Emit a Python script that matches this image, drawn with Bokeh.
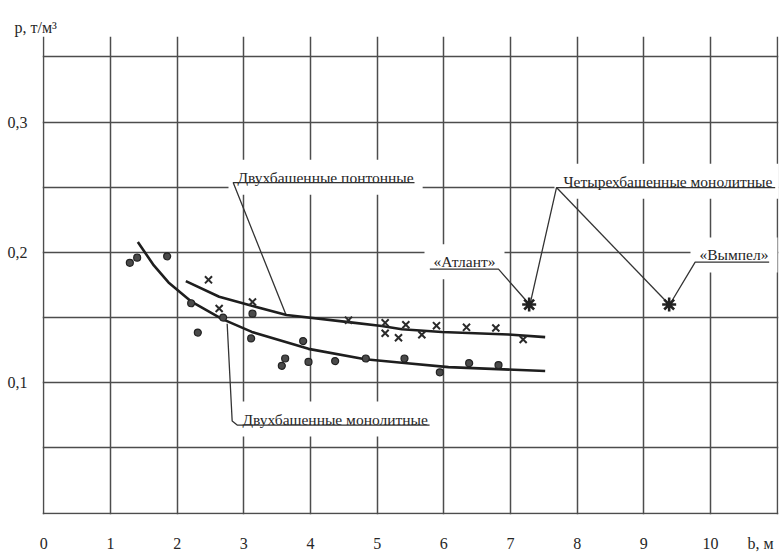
from bokeh.plotting import figure
from bokeh.models import FixedTicker, Label, Range1d
from bokeh.embed import file_html
from bokeh.resources import INLINE

# ---- data ----
# Двухбашенные монолитные (points)
mono_b = [1.29, 1.40, 1.85, 2.21, 2.31, 2.69, 3.11, 3.13, 3.57, 3.62, 3.89, 3.97, 4.37, 4.83, 5.41, 5.94, 6.38, 6.82]
mono_p = [0.192, 0.196, 0.197, 0.161, 0.1385, 0.150, 0.134, 0.153, 0.113, 0.1186, 0.132, 0.116, 0.1166, 0.1186, 0.1186, 0.108, 0.115, 0.1136]
# Двухбашенные понтонные (points)
pont_b = [2.47, 2.63, 3.13, 4.57, 5.12, 5.12, 5.32, 5.43, 5.67, 5.89, 6.34, 6.78, 7.19]
pont_p = [0.179, 0.157, 0.162, 0.148, 0.146, 0.138, 0.1345, 0.1445, 0.1368, 0.1438, 0.1425, 0.142, 0.1332]
# Четырехбашенные монолитные («Атлант», «Вымпел»)
four_b = [7.28, 9.38]
four_p = [0.160, 0.160]
# hand-drawn trend curves
mono_curve_b = [1.41, 1.65, 1.87, 2.22, 2.67, 3.12, 3.97, 4.82, 5.37, 6.07, 7.52]
mono_curve_p = [0.208, 0.190, 0.177, 0.162, 0.149, 0.139, 0.126, 0.118, 0.1153, 0.112, 0.109]
pont_curve_b = [2.13, 2.63, 3.12, 3.64, 4.57, 5.07, 5.37, 5.97, 6.97, 7.52]
pont_curve_p = [0.178, 0.166, 0.159, 0.152, 0.1465, 0.1435, 0.141, 0.139, 0.137, 0.135]

x_ticks = [0, 1, 2, 3, 4, 5, 6, 7, 8, 9, 10]
x_labels = ["0", "1", "2", "3", "4", "5", "6", "7", "8", "9", "10"]
y_ticks = [0.1, 0.2, 0.3]
y_labels = ["0,1", "0,2", "0,3"]
x_grid = [0, 1, 2, 3, 4, 5, 6, 7, 8, 9, 10, 11]
y_grid = [0, 0.05, 0.1, 0.15, 0.2, 0.25, 0.3, 0.35]
x_unit_pos = 10.75
x_unit = "b, м"
y_title = "p,  т/м³"

PAD = 9
PAD_B = PAD / 66.67
labels = [
    ("Двухбашенные понтонные", 2.905, 0.2577),
    ("Двухбашенные монолитные", 2.98, 0.0721),
    ("Четырехбашенные монолитные", 7.795, 0.2547),
    ("«Атлант»", 5.845, 0.1928),
    ("«Вымпел»", 9.835, 0.1981),
]
leader_xs = [
    [3.634, 2.84, 5.56],
    [2.75, 2.825, 2.90, 5.786],
    [7.29, 7.69, 10.97],
    [7.69, 9.38],
    [7.27, 6.82, 5.79],
    [9.40, 9.77, 10.88],
]
leader_ys = [
    [0.152, 0.2536, 0.2536],
    [0.1453, 0.0706, 0.0675, 0.0675],
    [0.1596, 0.2498, 0.2498],
    [0.2498, 0.160],
    [0.161, 0.1872, 0.1872],
    [0.161, 0.1925, 0.1925],
]

FONT = "Liberation Serif"
INK = "#262626"
GRID = "#4d4d4d"

p = figure(width=784, height=554, output_backend="svg", toolbar_location=None,
           x_range=Range1d(-0.02, 11.02), y_range=Range1d(-0.0011, 0.3657),
           min_border_left=42, min_border_right=6, min_border_top=36, min_border_bottom=32)
p.outline_line_color = None
p.background_fill_color = "white"
p.border_fill_color = "white"

p.title.text = y_title
p.title.text_font = FONT
p.title.text_font_size = "16px"
p.title.text_font_style = "normal"
p.title.text_color = INK
p.title.align = "left"
p.title.offset = -28
p.title.standoff = 2

p.xgrid.ticker = FixedTicker(ticks=x_grid)
p.ygrid.ticker = FixedTicker(ticks=y_grid)
for g in (p.xgrid, p.ygrid):
    g.grid_line_color = GRID
    g.grid_line_width = 1.5

p.xaxis.ticker = FixedTicker(ticks=x_ticks + [x_unit_pos])
ov = {t: l for t, l in zip(x_ticks, x_labels)}
ov[x_unit_pos] = x_unit
p.xaxis.major_label_overrides = ov
p.yaxis.ticker = FixedTicker(ticks=y_ticks)
p.yaxis.major_label_overrides = {t: l for t, l in zip(y_ticks, y_labels)}
for ax in (p.xaxis, p.yaxis):
    ax.axis_line_color = None
    ax.major_tick_line_color = None
    ax.minor_tick_line_color = None
    ax.major_label_text_font = FONT
    ax.major_label_text_font_size = "16px"
    ax.major_label_text_color = INK
p.xaxis.major_label_standoff = 14
p.yaxis.major_label_standoff = 9

# labels on white paper, drawn under the lines and marks
for txt, x, y in labels:
    lab = Label(x=x - PAD_B, y=y, text=txt, text_font=FONT, text_font_size="15.5px",
                text_color=INK, text_baseline="middle", text_align="left",
                background_fill_color="white", padding=PAD, level="underlay")
    p.add_layout(lab)

p.multi_line(xs=leader_xs, ys=leader_ys, line_color="#333333", line_width=1.3)

p.line(mono_curve_b, mono_curve_p, line_color="#1e1e1e", line_width=2.6)
p.line(pont_curve_b, pont_curve_p, line_color="#1e1e1e", line_width=2.6)

p.scatter(mono_b, mono_p, marker="circle", size=7, fill_color="#4a4a4a", line_color="#222222", line_width=1.2)
p.scatter(pont_b, pont_p, marker="x", size=10, line_color="#2a2a2a", line_width=2)
p.scatter(four_b, four_p, marker="asterisk", size=14, line_color="#222222", line_width=2.6)

open("out.html", "w").write(file_html(p, INLINE))
